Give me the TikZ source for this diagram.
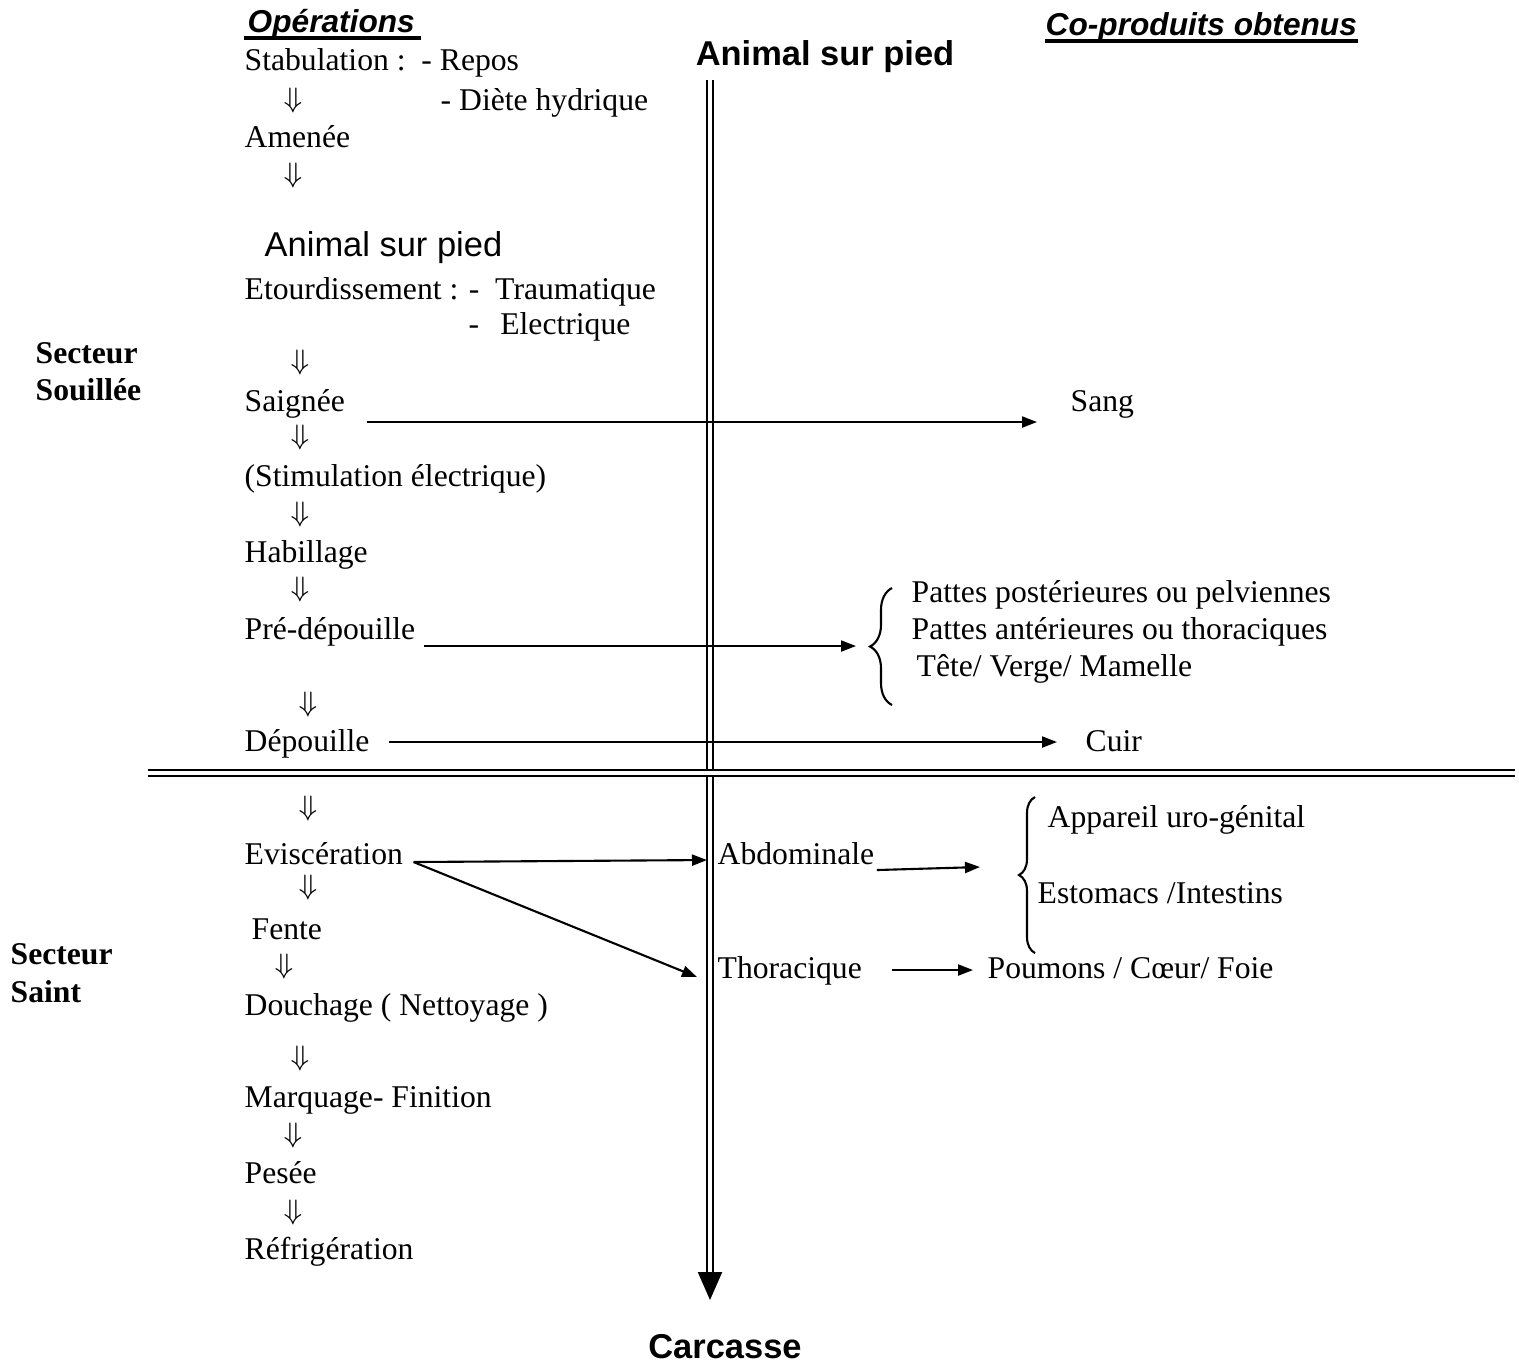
\documentclass[tikz,border=0pt]{standalone}
\usepackage{fontspec}
\setmainfont{Liberation Serif}
\setsansfont{Liberation Sans}
\usetikzlibrary{arrows.meta,calc,decorations.pathreplacing}
\tikzset{
  >={Triangle[length=1.5mm,width=1.1mm]},
  % textes
  op/.style={anchor=base west,inner sep=0pt,font=\fontsize{9}{10.5}\selectfont},
  sect/.style={op,font=\fontsize{9}{10.5}\selectfont\bfseries},
  head/.style={anchor=base west,inner sep=0pt,
               font=\fontsize{9}{11}\selectfont\sffamily\bfseries\itshape},
  big/.style={anchor=base,inner sep=0pt,font=\fontsize{9.8}{12}\selectfont\sffamily\bfseries},
  plain/.style={anchor=base west,inner sep=0pt,font=\fontsize{9.8}{12}\selectfont\sffamily},
  dn/.style={inner sep=0pt,font=\fontsize{8}{10}\selectfont},
  % traits
  fl/.style={->,line width=0.6pt},
  dbl/.style={double,line width=0.55pt,double distance=0.35mm},
  acc/.style={line width=0.6pt,decorate,decoration={brace,amplitude=#1}},
  acc/.default=2mm,
  ul/.style={line width=0.9pt},
}
\begin{document}
\begin{tikzpicture}[x=0.01cm,y=-0.01cm]
\useasboundingbox (0,0) rectangle (1519,1365);
  % titres
  \node[head] (opH) at (247,32) {Opérations};
  \node[head] (coH) at (1045,35) {Co-produits obtenus};
  \draw[ul] ([shift={(-3,6)}]opH.base west) -- ([shift={(6,6)}]opH.base east);
  \draw[ul] ([shift={(0,6)}]coH.base west) -- ([shift={(0,6)}]coH.base east);
  \node[big] (anim) at (825,65) {Animal sur pied};
  \node[big] (carc) at (725,1358) {Carcasse};
  \node[sect] (sec1) at (35,363) {Secteur};
  \node[sect] (sec2) at (35,400) {Souillée};
  \node[sect] (sec3) at (10,964) {Secteur};
  \node[sect] (sec4) at (10,1002) {Saint};
  % axes
  \coordinate (vtop) at (710,80);
  \coordinate (vbot) at (710,1300);
  \coordinate (hl) at (148,773);
  \coordinate (hr) at (1515,773);
  \draw[dbl,shorten >=2.6mm] (vtop) -- (vbot);
  \draw[-{Triangle[length=2.8mm,width=2.4mm]},line width=0.6pt]
    ([shift={(0,-28)}]vbot) -- (vbot);
  \draw[dbl] (hl) -- (hr);
  % operations
  \node[op] (stab) at (244,70) {Stabulation~:~~- Repos};
  \node[op] (diet) at (440,110) {- Diète hydrique};
  \node[dn] (d1) at (293,100) {$\Downarrow$};
  \node[op] (amen) at (244,147) {Amenée};
  \node[dn] (d2) at (293,175) {$\Downarrow$};
  \node[plain] (anim2) at (264,256) {Animal sur pied};
  \node[op] (etou) at (244,299) {Etourdissement : -~~Traumatique};
  \node[op] (elec) at (468,334) {-\hspace{6pt}Electrique};
  \node[dn] (d3) at (300,362) {$\Downarrow$};
  \node[op] (saig) at (244,411) {Saignée};
  \node[dn] (d4) at (300,437) {$\Downarrow$};
  \node[op] (stim) at (244,486) {(Stimulation électrique)};
  \node[dn] (d5) at (300,514) {$\Downarrow$};
  \node[op] (habi) at (244,562) {Habillage};
  \node[dn] (d6) at (300,589) {$\Downarrow$};
  \node[op] (pre) at (244,639) {Pré-dépouille};
  \node[dn] (d7) at (308,704) {$\Downarrow$};
  \node[op] (depo) at (244,751) {Dépouille};
  \node[dn] (d8) at (308,808) {$\Downarrow$};
  \node[op] (evis) at (244,864) {Eviscération};
  \node[dn] (d9) at (308,887) {$\Downarrow$};
  \node[op] (fent) at (251,939) {Fente};
  \node[dn] (d10) at (284,966) {$\Downarrow$};
  \node[op] (douc) at (244,1015) {Douchage ( Nettoyage )};
  \node[dn] (d11) at (300,1058) {$\Downarrow$};
  \node[op] (marq) at (244,1107) {Marquage- Finition};
  \node[dn] (d12) at (293,1135) {$\Downarrow$};
  \node[op] (pese) at (244,1183) {Pesée};
  \node[dn] (d13) at (293,1212) {$\Downarrow$};
  \node[op] (refr) at (244,1259) {Réfrigération};
  % co-produits
  \node[op] (sang) at (1070,411) {Sang};
  \node[op] (pat1) at (911,602) {Pattes postérieures ou pelviennes};
  \node[op] (pat2) at (911,639) {Pattes antérieures ou thoraciques};
  \node[op] (tete) at (916,676) {Tête/ Verge/ Mamelle};
  \node[op] (cuir) at (1085,751) {Cuir};
  \node[op] (abdo) at (717,864) {Abdominale};
  \node[op] (thor) at (717,978) {Thoracique};
  \node[op] (appa) at (1047,827) {Appareil uro-génital};
  \node[op] (esto) at (1037,903) {Estomacs /Intestins};
  \node[op] (poum) at (987,978) {Poumons / C\oe ur/ Foie};
  % accolades
  \coordinate (b1bot) at (892,705);
  \coordinate (b1top) at (892,588);
  \coordinate (b1tip) at (856,646);
  \coordinate (b2bot) at (1035,953);
  \coordinate (b2top) at (1035,797);
  \coordinate (b2tip) at (980,867);
  \draw[acc=2.2mm] (b1bot) -- (b1top);
  \draw[acc=1.6mm] (b2bot) -- (b2top);
  % fleches
  \draw[fl] ([shift={(21,11)}]saig.base east) -- ([shift={(-33,11)}]sang.base west);
  \draw[fl] ([shift={(8,7)}]pre.base east) -- (b1tip);
  \draw[fl] ([shift={(19,-9)}]depo.base east) -- ([shift={(-28,-9)}]cuir.base west);
  \draw[fl] ([shift={(10,-2)}]evis.base east) -- ([shift={(-10,-4)}]abdo.base west);
  \draw[fl] ([shift={(10,-2)}]evis.base east) -- ([shift={(-20,-1)}]thor.base west);
  \draw[fl] ([shift={(2,6)}]abdo.base east) -- (b2tip);
  \draw[fl] ([shift={(29,-8)}]thor.base east) -- ([shift={(-14,-8)}]poum.base west);
\end{tikzpicture}
\end{document}
